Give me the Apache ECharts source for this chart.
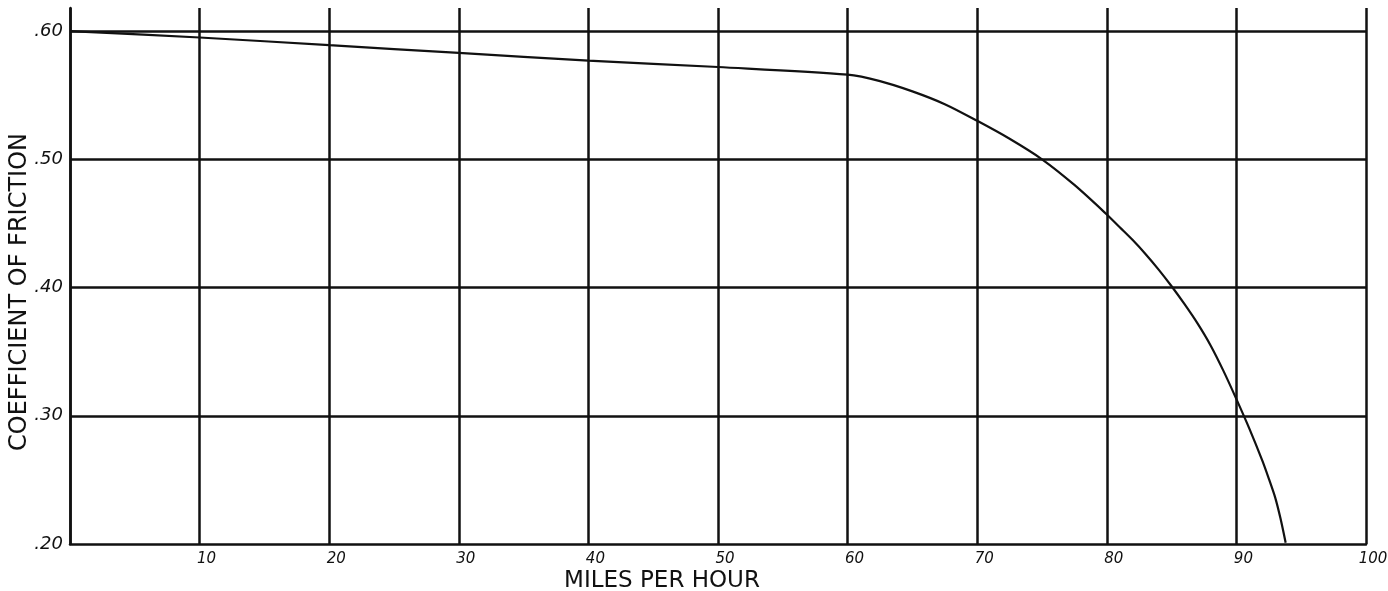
<!DOCTYPE html>
<html>
<head>
<meta charset="utf-8">
<script src="https://cdn.jsdelivr.net/npm/echarts@6/dist/echarts.min.js"></script>
<style>
  html, body { margin: 0; padding: 0; background: #fff; }
  #chart { width: 1388px; height: 591px; }
</style>
</head>
<body>
<div id="chart"></div>
<script>
// speed (mph) and coefficient of friction
const speeds = [0, 10, 20, 30, 40, 50, 60, 62.5, 65, 67.5, 70, 72.5, 75, 77.5, 80, 81, 82, 83, 84, 85, 86, 87, 88, 89, 90, 91, 92, 92.5, 93, 93.4, 93.8];
const friction = [0.600, 0.595, 0.589, 0.583, 0.577, 0.572, 0.566, 0.561, 0.553, 0.543, 0.530, 0.516, 0.500, 0.480, 0.457, 0.447, 0.437, 0.426, 0.414, 0.401, 0.387, 0.372, 0.355, 0.335, 0.313, 0.290, 0.265, 0.251, 0.236, 0.220, 0.201];
const xTicks = [10, 20, 30, 40, 50, 60, 70, 80, 90, 100];
const yTicks = [".20", ".30", ".40", ".50", ".60"];

const ink = "#111";
const pts = speeds.map((s, i) => [s, friction[i]]);

const chart = echarts.init(document.getElementById("chart"));
chart.setOption({
  backgroundColor: "#fff",
  animation: false,
  grid: { left: 70, right: 22, top: 8, bottom: 47, outerBoundsMode: "none" },
  xAxis: {
    type: "value",
    min: 0,
    max: 100,
    interval: 10,
    name: "MILES PER HOUR",
    nameLocation: "middle",
    nameGap: 26,
    nameMoveOverlap: false,
    nameTextStyle: { color: ink, fontSize: 23, fontFamily: "DejaVu Sans", padding: [0, 112, 0, 0] },
    axisLine: { lineStyle: { color: ink, width: 2.5 } },
    axisTick: { show: false },
    axisLabel: {
      color: ink,
      fontSize: 15,
      fontStyle: "italic",
      fontFamily: "DejaVu Sans",
      margin: 8,
      padding: [0, 0, 0, 14],
      formatter: v => (xTicks.indexOf(v) >= 0 ? String(v) : "")
    },
    splitLine: { show: true, lineStyle: { color: ink, width: 2.5 } }
  },
  yAxis: {
    type: "value",
    min: 0.2,
    max: 0.618,
    interval: 0.1,
    name: "COEFFICIENT OF FRICTION",
    nameLocation: "middle",
    nameGap: 38,
    nameMoveOverlap: false,
    nameTextStyle: { color: ink, fontSize: 24, fontFamily: "DejaVu Sans", padding: [0, 32, 0, 0] },
    axisLine: { show: true, lineStyle: { color: ink, width: 2.5 } },
    axisTick: { show: false },
    axisLabel: {
      color: ink,
      fontSize: 18,
      fontStyle: "italic",
      fontFamily: "DejaVu Sans",
      margin: 7,
      showMaxLabel: false,
      formatter: v => {
        const i = Math.round((v - 0.2) * 10);
        return Math.abs(v - (0.2 + i * 0.1)) < 1e-6 ? yTicks[i] : "";
      }
    },
    splitLine: { show: true, showMaxLine: false, showMinLine: false, lineStyle: { color: ink, width: 2.5 } }
  },
  series: [{
    type: "line",
    data: pts,
    smooth: 0.3,
    showSymbol: false,
    clip: false,
    lineStyle: { color: ink, width: 2.2 }
  }]
});
</script>
</body>
</html>
